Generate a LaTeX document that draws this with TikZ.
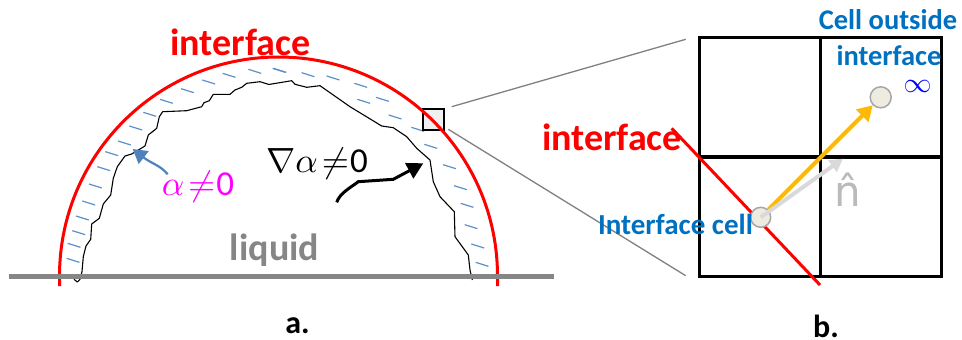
\documentclass[tikz,border=0pt]{standalone}
\usepackage{fontspec}
\setmainfont{Carlito}
\newfontfamily\dejavu{DejaVu Sans}
\usetikzlibrary{arrows.meta}
\definecolor{ifred}{HTML}{FF0000}
\definecolor{dashblue}{HTML}{5B8FCB}
\definecolor{txtblue}{HTML}{0070C0}
\definecolor{liqgray}{HTML}{868686}
\definecolor{cellfill}{HTML}{EEECE1}
\definecolor{arrowblue}{HTML}{4F81BD}
\definecolor{orangeline}{HTML}{FFB900}
\definecolor{magentatxt}{HTML}{FF00FF}
\tikzset{
  x=1pt,y=-1pt,
  lbl/.style={inner sep=0pt,outer sep=0pt,anchor=center},
  redlbl/.style={lbl,text=ifred,font=\fontsize{38}{38}\selectfont\bfseries},
  bluelbl/.style={lbl,text=txtblue,font=\fontsize{28.5}{28.5}\selectfont\bfseries},
  caplbl/.style={lbl,text=black,font=\fontsize{32}{32}\selectfont\bfseries},
  redline/.style={draw=ifred,line width=3pt},
  gridline/.style={draw=black,line width=3pt},
  zoomline/.style={draw=gray,line width=1.3pt},
  dashmark/.style={draw=dashblue,line width=1.2pt},
  point/.style={circle,draw=black!35,fill=cellfill,line width=1.5pt,minimum size=20pt,inner sep=0pt},
  wavy/.style={draw=black,line width=1.1pt,line join=round}
}
\begin{document}
\begin{tikzpicture}
\useasboundingbox (0,0) rectangle (962,340);
% dashes
\foreach \xa/\ya in {200/775,203/730,217/692,228/648,247/603,267/552,292/500,316/455,354/423,388/378,430/337,480/298,543/266,607/240,668/220,745/208,820/205}
  \draw[dashmark] ({\xa/3},{\ya/3}) -- ++(12.8,4);
\foreach \xa/\ya in {8/205,95/218,170/228,253/250,318/292,262/298,356/345,424/382,463/433,519/494,552/557,572/610,584/674,604/732,617/787}
  \draw[dashmark] ({270+\xa/3},{\ya/3}) -- ++(12.8,4);
% rough liquid edge
\draw[wavy] (74,279.3) -- (77.3,282) -- (80,279.3) -- (82,271.7) -- (83.3,256.7) -- (86,246) -- (90.7,239.3) -- (91.7,224) -- (99.3,218.3) -- (103.3,204) -- (110.7,195) -- (113.3,178.3) -- (117.3,166.7) -- (125,156) -- (131.7,154) -- (145,146) -- (148.3,135) -- (156.7,128.3) -- (159.3,116.7) -- (162.7,111.7) -- (186.7,110.7) -- (201.7,106.7) -- (204,102.7) -- (209.3,100.7) -- (213.3,94.3) -- (230,94.3) -- (235,90) -- (241.7,87.3) -- (246.7,83.3) -- (260,81.7) -- (268.3,84.3) -- (270,84.3) -- (291.7,80.7) -- (295,84.3) -- (306.7,87.3) -- (320,85.7) -- (350,106.7) -- (381.7,126) -- (393.3,127.7) -- (406.7,136.7) -- (416.7,148.3) -- (430,160) -- (433.3,181.7) -- (440,196.7) -- (454.3,211.7) -- (455,236.7) -- (468.3,255) -- (470,270) -- (472.3,280);
% zoom square
\node[draw=black,fill=black!6,line width=1.5pt,minimum size=21pt,inner sep=0pt] (zbox) at (433.5,119.5) {};
% interface arc
\draw[redline] (59.5,286) -- (59.5,276) arc[start angle=180,end angle=360,x radius=219,y radius=219] -- (497.5,286);
% liquid floor
\draw[draw=liqgray,line width=5pt] (9,276) -- (554,276);
% labels a
\node[redlbl] (t1) at (240.5,42) {interface};
\node[lbl,text=liqgray,font=\fontsize{38}{38}\selectfont\bfseries] (liq) at (274.5,250) {liquid};
\node[lbl,text=magentatxt] (alab) at (198,187) {\scalebox{3.5}{$\alpha\!\neq$\kern0.3pt 0}};
\node[lbl,text=black] (glab) at (317,164) {\scalebox{3.5}{$\nabla\alpha\!\neq$\kern0.3pt 0}};
\node[caplbl] (capa) at (297.5,326) {a.};
\node[caplbl] (capb) at (826,326) {b.};
% pointer arrows
\coordinate (bstart) at (167.7,174.3);
\coordinate (btip) at (132.7,149);
\draw[draw=arrowblue,line width=2.2pt,-{Triangle[length=14pt,width=16pt]}] (bstart) .. controls (160,165) and (152,164) .. (btip);
\coordinate (kstart) at (336.7,202.3);
\coordinate (ktip) at (423.3,163.3);
\draw[draw=black,line width=3pt,-{Triangle[length=16pt,width=17pt]}] (kstart) .. controls (340,193) and (350,188) .. (358.3,181.7) -- (393.3,179.3) -- (ktip);
% zoom lines
\coordinate (g1a) at (451.7,106.7);
\coordinate (g1b) at (685.7,39.3);
\coordinate (g2a) at (448.3,129.3);
\coordinate (g2b) at (685.7,275.7);
\draw[zoomline] (g1a) -- (g1b);
\draw[zoomline] (g2a) -- (g2b);
% grid
\draw[gridline] (699,37.7) rectangle (941,276.7);
\draw[gridline] (820,37.7) -- (820,276.7);
\draw[gridline,line width=4pt] (699,156.7) -- (941,156.7);
% red interface in b
\coordinate (ra) at (671.7,128.3);
\coordinate (rb) at (820,285);
\draw[redline] (ra) -- (rb);
% points and vectors
\node[point] (p1) at (760.7,217.3) {};
\node[point,minimum size=21pt] (p2) at (880.7,97.3) {};
\draw[draw=orangeline,line width=4pt,-{Triangle[length=15pt,width=17pt]}] (p1) -- (p2);
\coordinate (ntip) at (843,158.7);
\draw[draw=black!15,line width=4pt,-{Triangle[length=13pt,width=14pt]}] (p1.center) -- (ntip);
% labels b
\node[redlbl] (t2) at (612,137) {interface};
\node[bluelbl] (t3) at (888,20) {Cell outside};
\node[bluelbl] (t4) at (889,56) {interface};
\node[lbl,text=txtblue,font=\fontsize{29}{29}\selectfont\bfseries] (t5) at (675.5,224) {Interface cell};
\node[lbl,text=blue] (inf) at (917.7,86) {\scalebox{2.8}{$\infty$}};
\node[lbl,text=black!27,font=\fontsize{42}{42}\selectfont\dejavu] (nhat) at (848,190) {n^^^^0302};
\end{tikzpicture}
\end{document}
